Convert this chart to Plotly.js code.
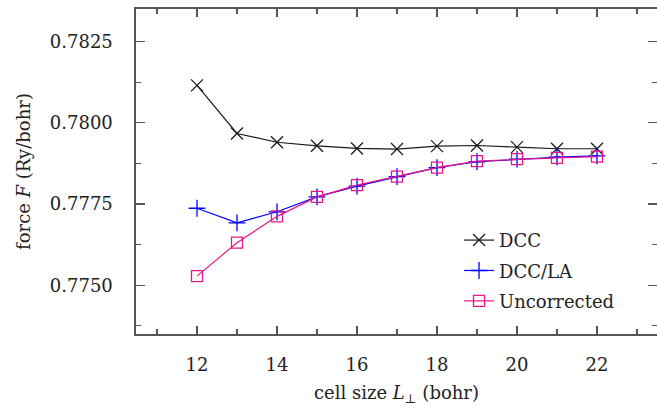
<!DOCTYPE html>
<html>
<head>
<meta charset="utf-8">
<script src="https://cdn.plot.ly/plotly-3.0.1.min.js"></script>
<style>html,body{margin:0;padding:0;background:#fff}#chart{width:657px;height:412px}</style>
</head>
<body>
<div id="chart"></div>
<script>
const cellSize = [12, 13, 14, 15, 16, 17, 18, 19, 20, 21, 22];
const dcc = [0.78115, 0.77967, 0.77940, 0.77929, 0.77921, 0.77919, 0.77928, 0.77930, 0.77925, 0.77920, 0.77920];
const dccLA = [0.77737, 0.77692, 0.77726, 0.77772, 0.77805, 0.77834, 0.77862, 0.77880, 0.77888, 0.77894, 0.77898];
const uncorrected = [0.77528, 0.77631, 0.77712, 0.77772, 0.77808, 0.77834, 0.77862, 0.77882, 0.77888, 0.77892, 0.77896];
const seriesNames = ["DCC", "DCC/LA", "Uncorrected"];
const xTicks = [12, 14, 16, 18, 20, 22];
const yTicks = [0.7750, 0.7775, 0.7800, 0.7825];

const FONT = "DejaVu Serif";
const traces = [
  {x: cellSize, y: dcc, name: seriesNames[0], legendgroup: "a", mode: "lines+markers",
   line: {color: "#1a1a1a", width: 1.2},
   marker: {symbol: "x-thin-open", size: 12, line: {color: "#1a1a1a", width: 1.3}}},
  {x: cellSize, y: dccLA, name: seriesNames[1], legendgroup: "b", mode: "lines+markers",
   line: {color: "#0000ff", width: 1.2},
   marker: {symbol: "cross-thin-open", size: 12, line: {color: "#0000ff", width: 1.3}}},
  {x: cellSize, y: uncorrected, name: seriesNames[2], legendgroup: "c", mode: "lines+markers",
   line: {color: "#e6178a", width: 1.2},
   marker: {symbol: "square-open", size: 11, color: "#e6178a", line: {color: "#e6178a", width: 1.3}}}
];

const layout = {
  width: 657, height: 412,
  margin: {l: 136, r: 0, t: 9, b: 78},
  paper_bgcolor: "#fff", plot_bgcolor: "#fff",
  font: {family: FONT, size: 18, color: "#222"},
  showlegend: true,
  legend: {x: 0.62, y: 0.345, xanchor: "left", yanchor: "top", bgcolor: "rgba(0,0,0,0)",
           font: {family: FONT, size: 18, color: "#222"}, itemwidth: 30, tracegroupgap: 4},
  xaxis: {
    range: [10.475, 23.5], tickvals: xTicks, ticktext: xTicks.map(String),
    ticks: "inside", ticklen: 8, tickwidth: 1.2, tickcolor: "#555",
    showline: true, linecolor: "#555", linewidth: 1.6, mirror: "ticks",
    showgrid: false, zeroline: false, ticklabelstandoff: 14,
    minor: {dtick: 1, tick0: 0, ticks: "inside", ticklen: 5, tickwidth: 1.2, tickcolor: "#555", showgrid: false},
    tickfont: {family: FONT, size: 18, color: "#222"},
    title: {text: "cell size <i>L</i><sub>⊥</sub> (bohr)", font: {family: FONT, size: 18, color: "#222"}, standoff: 12}
  },
  yaxis: {
    range: [0.7735, 0.7835], tickvals: yTicks, ticktext: yTicks.map(v => v.toFixed(4)),
    ticks: "inside", ticklen: 9, tickwidth: 1.2, tickcolor: "#555",
    showline: true, linecolor: "#555", linewidth: 1.6, mirror: "ticks",
    showgrid: false, zeroline: false, ticklabelstandoff: 18,
    minor: {dtick: 0.00125, tick0: 0.7750, ticks: "inside", ticklen: 5, tickwidth: 1.2, tickcolor: "#555", showgrid: false},
    tickfont: {family: FONT, size: 18, color: "#222"},
    title: {text: "force <i>F</i> (Ry/bohr)", font: {family: FONT, size: 18, color: "#222"}, standoff: 14}
  }
};
Plotly.newPlot("chart", traces, layout, {staticPlot: true, displayModeBar: false});
</script>
</body>
</html>
